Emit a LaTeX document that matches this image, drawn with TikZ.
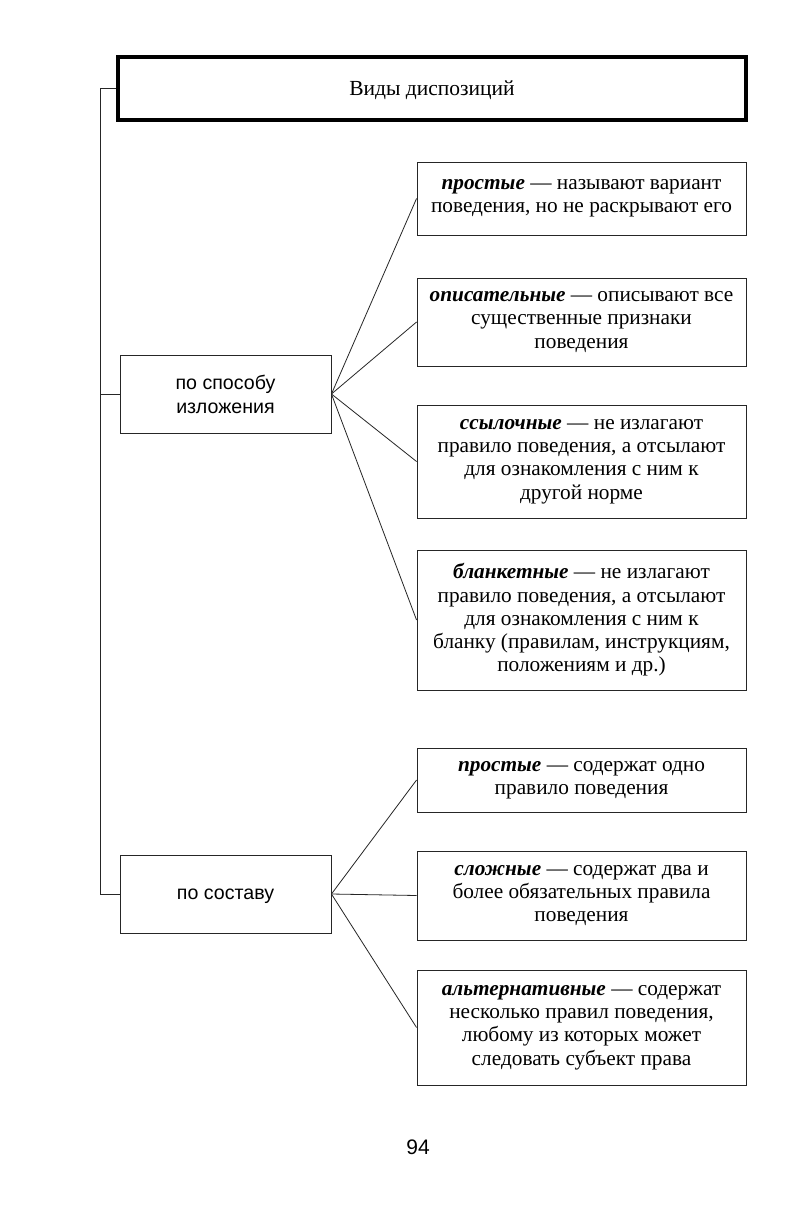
\documentclass[tikz,border=0pt]{standalone}
\usepackage{fontspec}
\setmainfont{Liberation Serif}
\newfontfamily\sansf{Liberation Sans}
\tikzset{
  box/.style={draw=black!85, line width=0.9pt, rectangle, inner sep=0pt, align=center,
    font=\fontsize{21.3}{23.3}\selectfont},
  lbox/.style={box, font=\sansf\fontsize{19.6}{24}\selectfont},
  tbox/.style={draw=black, line width=3.5pt, rectangle, inner sep=0pt, align=center,
    font=\fontsize{21.5}{24}\selectfont},
  conn/.style={draw=black!85, line width=0.8pt}
}
\newcommand{\term}[1]{\textbf{\textit{#1}}}
\begin{document}
\begin{tikzpicture}[x=1pt,y=-1pt]
\useasboundingbox (0,0) rectangle (811,1228);
\fill[white] (0,0) rectangle (811,1228);
% title
\node[tbox, minimum width=628, minimum height=63, text depth=0pt] (title) at (432,88.5) {Виды диспозиций};
% left group boxes
\node[lbox, minimum width=211, minimum height=78] (bs) at (225.5,394) {по способу\\изложения};
\node[lbox, minimum width=211, minimum height=78, text depth=0pt] (bc) at (225.5,894) {по составу};
% right boxes
\node[box, minimum width=329, minimum height=73] (r1) at (581.5,198.5)
  {\term{простые} — называют вариант\\поведения, но не раскрывают его};
\node[box, minimum width=329, minimum height=88] (r2) at (581.5,322)
  {\term{описательные} — описывают все\\существенные признаки\\поведения};
\node[box, minimum width=329, minimum height=113] (r3) at (581.5,461.5)
  {\term{ссылочные} — не излагают\\правило поведения, а отсылают\\для ознакомления с ним к\\другой норме};
\node[box, minimum width=329, minimum height=140] (r4) at (581.5,620)
  {\term{бланкетные} — не излагают\\правило поведения, а отсылают\\для ознакомления с ним к\\бланку (правилам, инструкциям,\\положениям и др.)};
\node[box, minimum width=329, minimum height=64] (r5) at (581.5,780)
  {\term{простые} — содержат одно\\правило поведения};
\node[box, minimum width=329, minimum height=89] (r6) at (581.5,895.5)
  {\term{сложные} — содержат два и\\более обязательных правила\\поведения};
\node[box, minimum width=329, minimum height=115] (r7) at (581.5,1027.5)
  {\term{альтернативные} — содержат\\несколько правил поведения,\\любому из которых может\\следовать субъект права};
% page number
\node[font=\sansf\fontsize{21}{24}\selectfont, inner sep=0pt] (pg) at (418,1147) {94};
% spine
\coordinate (spine) at (100,0);
\draw[conn] (title.west) -- (title.west -| spine) -- (bc.west -| spine) -- (bc.west);
\draw[conn] (bs.west -| spine) -- (bs.west);
% branches
\foreach \r in {r1,r2,r3,r4} \draw[conn] (bs.east) -- (\r.west);
\foreach \r in {r5,r6,r7} \draw[conn] (bc.east) -- (\r.west);
\end{tikzpicture}
\end{document}
